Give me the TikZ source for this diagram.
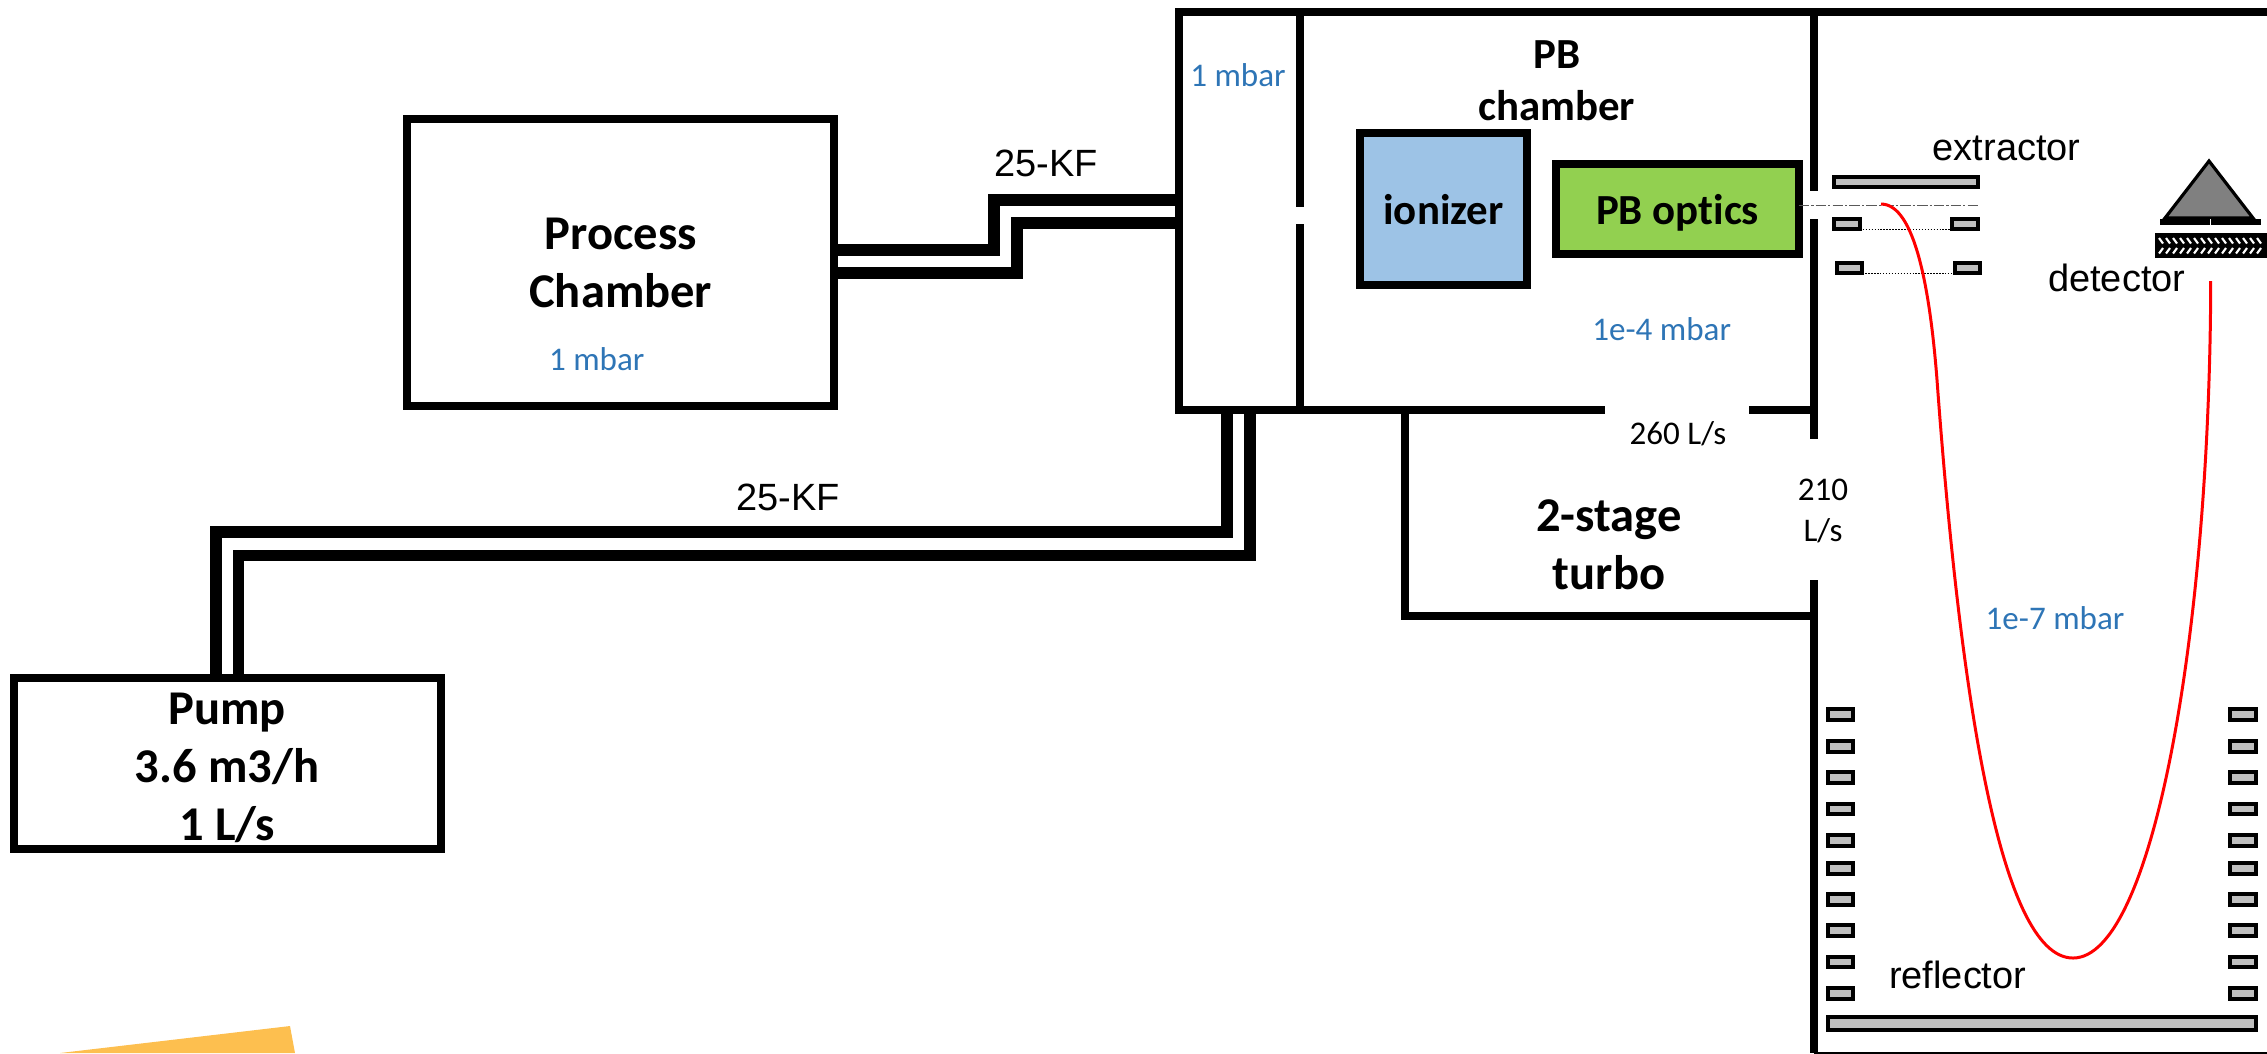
\documentclass[tikz,border=0pt]{standalone}
\usepackage{xcolor}
\usepackage{fontspec}
\setmainfont{Carlito}[Ligatures=CommonOff]
\newfontfamily\arialfont{Liberation Sans}
\definecolor{wallblack}{RGB}{0,0,0}
\definecolor{vacblue}{RGB}{46,117,182}
\definecolor{ionblue}{RGB}{157,195,230}
\definecolor{optgreen}{RGB}{146,208,80}
\definecolor{plate}{RGB}{191,191,191}
\definecolor{prism}{RGB}{128,128,128}
\definecolor{tape}{RGB}{253,191,79}
\usepackage{tikz}
\usetikzlibrary{positioning}
\tikzset{
  wall/.style={draw=wallblack,line width=2.3pt},
  pipe/.style={draw=wallblack,line width=3.3pt},
  box/.style={draw=wallblack,line width=2.3pt,outer sep=0pt,inner sep=0pt,align=center},
  bigtext/.style={font=\fontsize{13.8}{16.5}\selectfont\bfseries,align=center,inner sep=0pt},
  midtext/.style={font=\fontsize{12.2}{14.8}\selectfont\bfseries,align=center,inner sep=0pt},
  vactext/.style={font=\fontsize{9.4}{11}\selectfont,text=vacblue,anchor=base,inner sep=0pt},
  ratetext/.style={font=\fontsize{9.4}{11}\selectfont,anchor=base,inner sep=0pt},
  armtext/.style={font=\arialfont\fontsize{10.8}{13}\selectfont,anchor=base,inner sep=0pt},
  electrode/.style={draw=wallblack,fill=plate,line width=1.15pt,outer sep=0pt,inner sep=0pt,
                    minimum width=0.255cm,minimum height=0.108cm},
  gridline/.style={line width=0.42pt,dash pattern=on 0.42pt off 0.42pt},
}
\begin{document}
\begin{tikzpicture}[x=0.01cm,y=-0.01cm]
\useasboundingbox (0,0) rectangle (2267,1053);
\fill[tape] (60,1053) -- (290,1026) -- (295,1053) -- cycle;

% boxes
\node[box,minimum width=4.265cm,minimum height=2.87cm,bigtext] (process) at (620.75,262.5) {Process\\Chamber};
\node[box,minimum width=4.265cm,minimum height=1.71cm] (pump) at (227.5,763.5) {};
\node[bigtext] (pumptext) at (227,767.5) {Pump\\3.6 m3/h\\1 L/s};
\node[box,fill=ionblue,minimum width=1.661cm,minimum height=1.517cm,midtext] (ionizer) at (1443.5,209.2) {ionizer};
\node[box,fill=optgreen,minimum width=2.424cm,minimum height=0.90cm,midtext,text depth=0pt] (optics) at (1677.5,209.3) {PB optics};

% chamber walls
\coordinate (topleft) at (1179,12);
\coordinate (topright) at (2267,12);
\coordinate (sepleft) at (1179,410);
\coordinate (sepright) at (1814,410);
\draw[wall] (topright) -- (topleft) -- (sepleft) -- (1604.5,410);
\draw[wall] (1749,410) -- (sepright);
\draw[wall] (1300,8) -- (1300,207);
\draw[wall] (1300,224) -- (1300,414);
\draw[wall] (1814,8) -- (1814,191);
\draw[wall] (1814,219) -- (1814,439);
\draw[wall] (1814,580) -- (1814,1053);
\draw[wall] (1405,410) -- (1405,616) -- (1814,616);
\draw[line width=0.6pt] (1814,1053) -- (2267,1053);

% pipes
\draw[pipe] (process.east |- 0,250) -- (994,250) -- (994,199.7) -- (topleft |- 0,199.7);
\draw[pipe] (process.east |- 0,273) -- (1017,273) -- (1017,223) -- (topleft |- 0,223);
\draw[pipe] (pump.north -| 216,0) -- (216,532) -- (1227,532) -- (1227,410);
\draw[pipe] (pump.north -| 238.5,0) -- (238.5,555.5) -- (1250,555.5) -- (1250,410);

% extractor
\node[electrode,minimum width=1.44cm] (extractor) at (1906,182) {};
\node[electrode] (exlefta) at (1847,224) {};
\node[electrode] (exrighta) at (1965,224) {};
\node[electrode] (exleftb) at (1849.5,268) {};
\node[electrode] (exrightb) at (1967.5,268) {};
\draw[gridline] (exlefta.east |- 0,229.3) -- (exrighta.west |- 0,229.3);
\draw[gridline] (exleftb.east |- 0,273.3) -- (exrightb.west |- 0,273.3);
\draw[line width=0.25pt,dash pattern=on 3pt off 0.6pt on 0.6pt off 0.6pt,draw=black!65] (optics.east |- 0,205) -- (extractor.east |- 0,205);

% reflector
\foreach \ypos in {714.7,746.3,777.7,809,840.3,868.3,899.7,930.7,962,993.3}{
  \node[electrode] at (1840.5,\ypos) {};
  \node[electrode] at (2243,\ypos) {};
}
\node[electrode,minimum width=4.28cm,minimum height=0.13cm] (reflector) at (2041.8,1023) {};

% detector
\draw[fill=prism,line width=0.9pt] (2209,161) -- (2253,218) -- (2165,218) -- cycle;
\fill[black] (2160,218.7) rectangle (2261,225);
\draw[white,line width=0.2pt] (2210,219) -- (2210,225);
\fill[black] (2155,233) rectangle (2267,257.7);
\foreach \xpos in {2159,2166,...,2258}{
  \draw[white,line width=0.6pt] (\xpos,238) -- (\xpos+4,243.5);
  \draw[white,line width=0.6pt] (\xpos,253.5) -- (\xpos+4,248);
}

% ion path
\draw[red,line width=0.85pt] (1881,204) .. controls (1915,204) and (1930,290) .. (1937,380)
  .. controls (1959,680) and (1998,958) .. (2073,958)
  .. controls (2153,958) and (2210,631) .. (2210.7,281);

% labels
\node[midtext] (pbtext) at (1556.7,81) {PB\\chamber};
\node[bigtext] (turbotext) at (1609,545) {2-stage\\turbo};
\node[vactext] (vacinlet) at (1238,86) {1 mbar};
\node[vactext] (vacprocess) at (596.7,370.7) {1 mbar};
\node[vactext] (vacpb) at (1661.7,340.7) {1e-4 mbar};
\node[vactext] (vactof) at (2055,629) {1e-7 mbar};
\node[ratetext] (ratepb) at (1678,444) {260 L/s};
\node[ratetext] (ratetofa) at (1823,500.7) {210};
\node[ratetext] (ratetofb) at (1823,541.7) {L/s};
\node[armtext] (kfupper) at (1046,176.7) {25-KF};
\node[armtext] (kflower) at (788,510) {25-KF};
\node[armtext] (extext) at (2006.7,160.7) {extractor};
\node[armtext] (dettext) at (2116.7,291.7) {detector};
\node[armtext] (reftext) at (1957.7,988) {reflector};
\end{tikzpicture}
\end{document}
